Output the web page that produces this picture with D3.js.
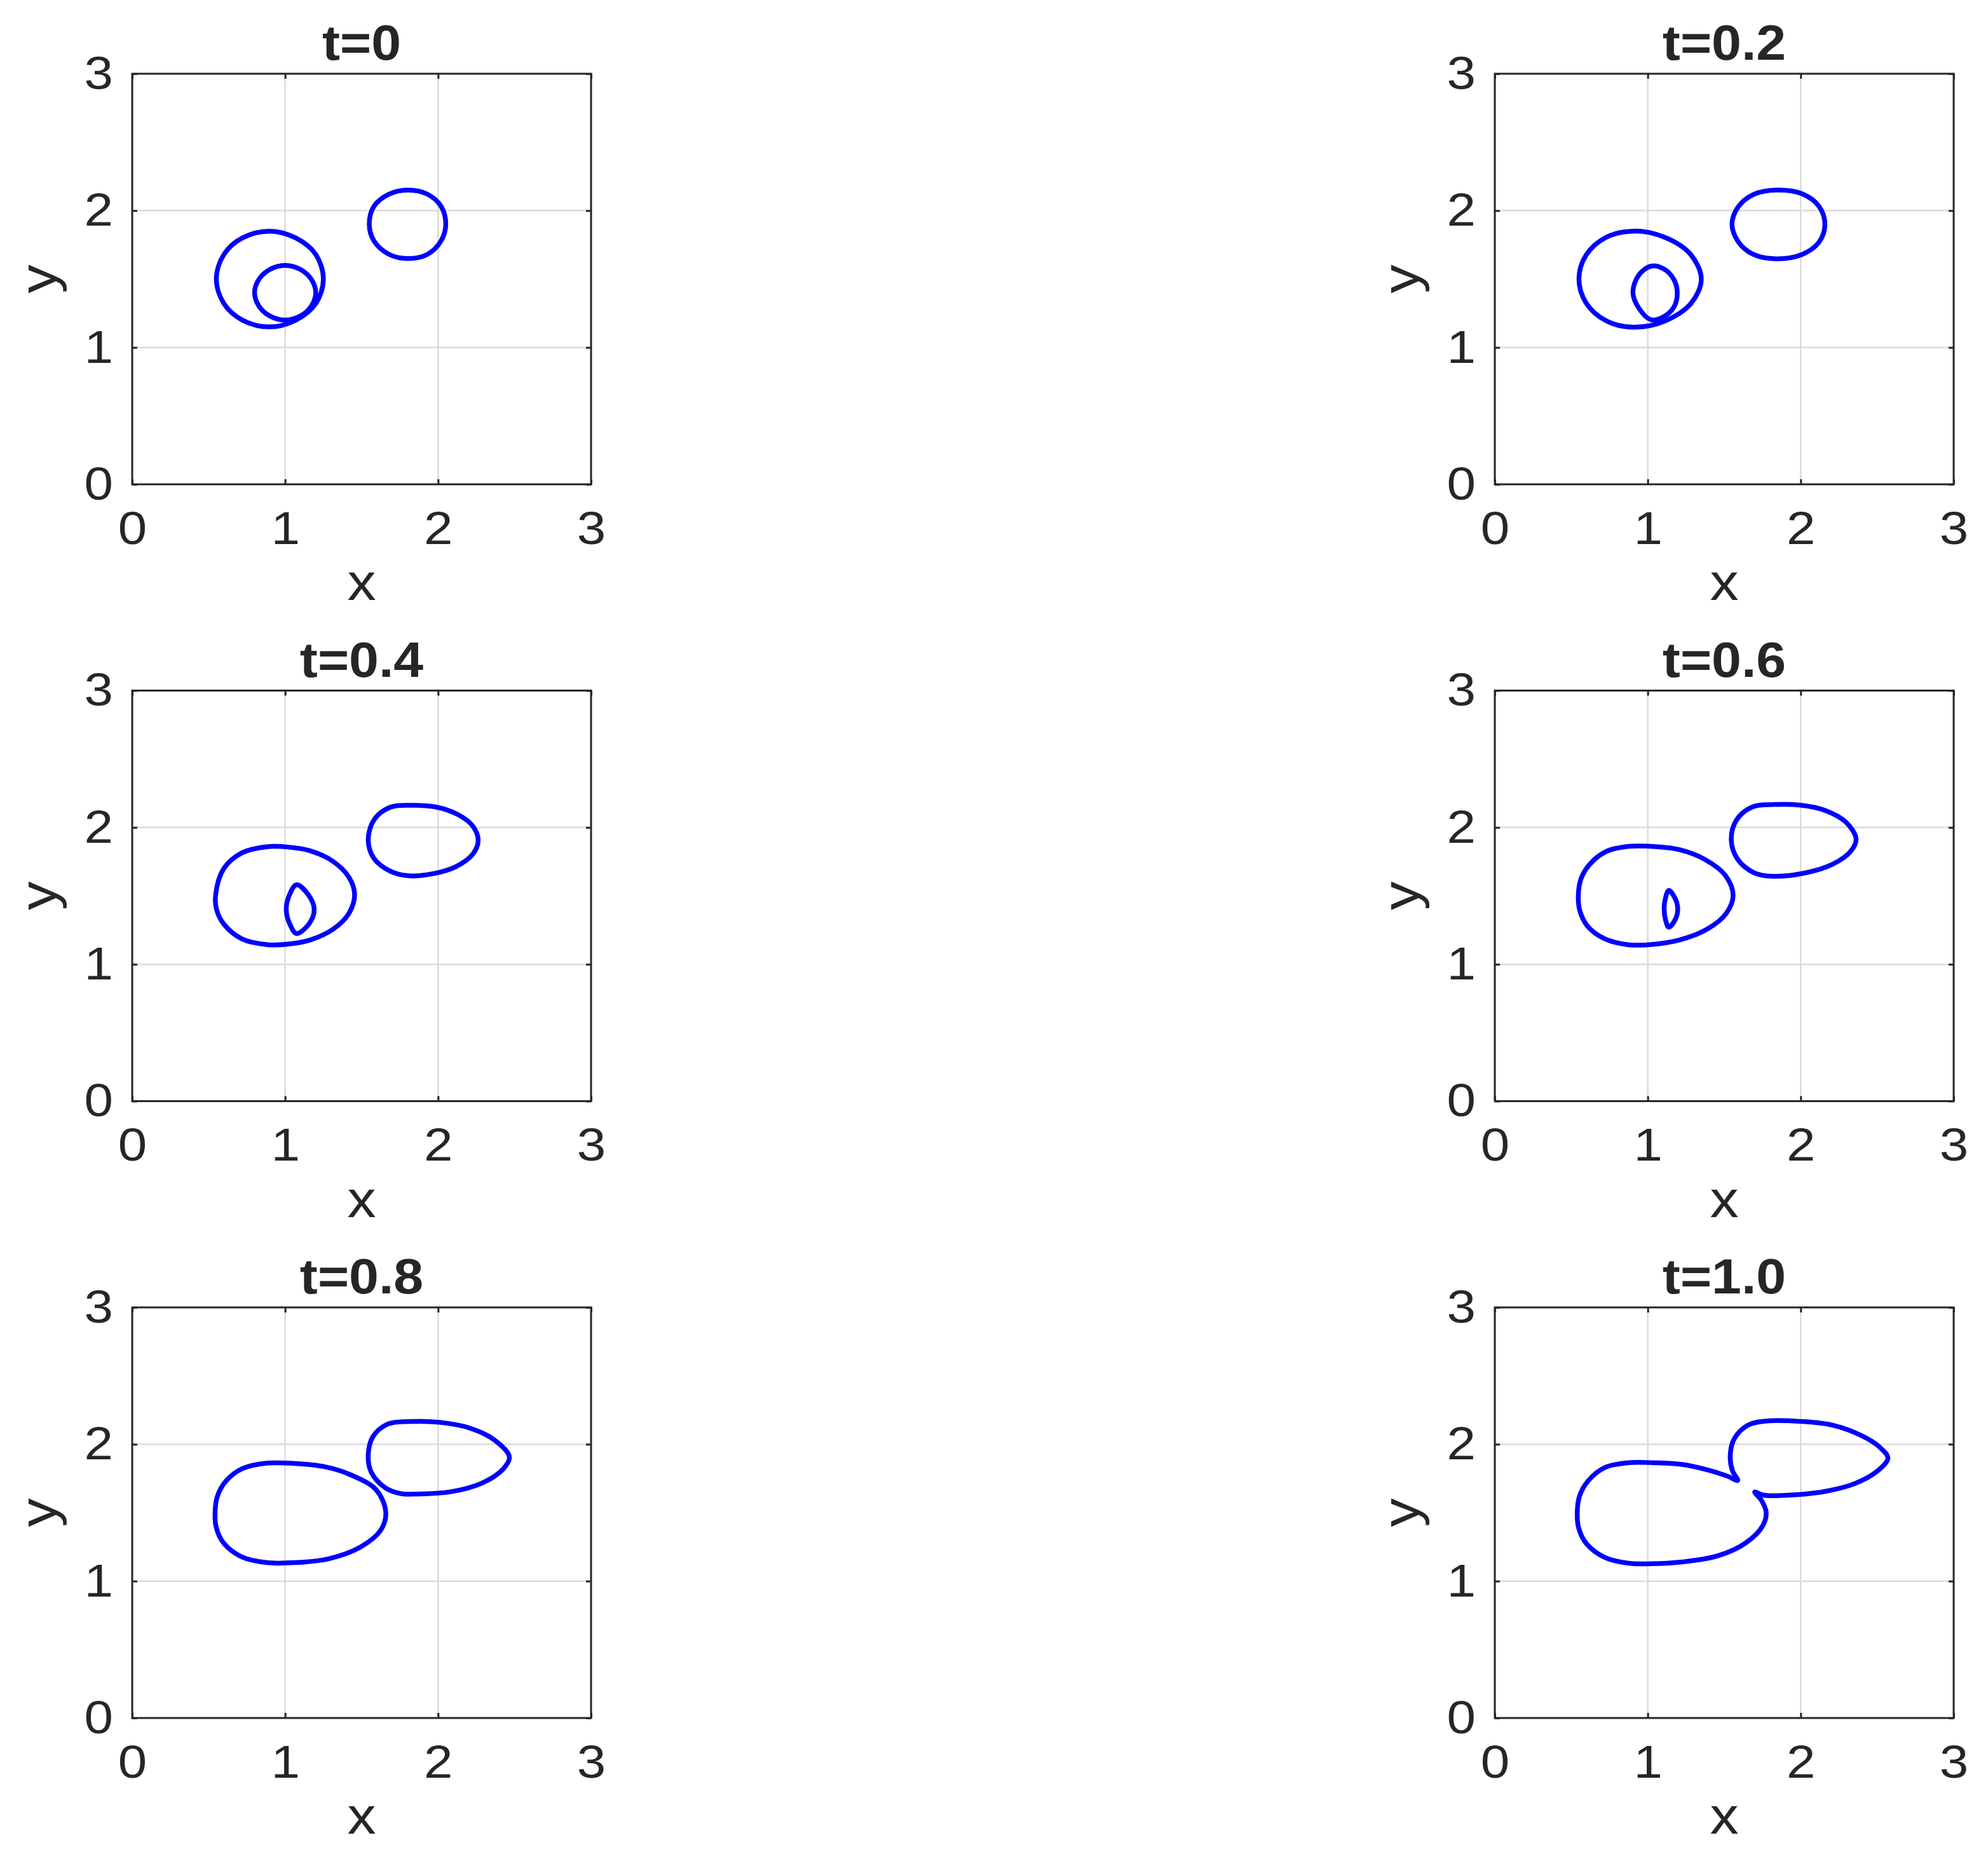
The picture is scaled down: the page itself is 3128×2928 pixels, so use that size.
<!DOCTYPE html>
<html><head><meta charset="utf-8">
<script src="https://cdn.jsdelivr.net/npm/d3@7"></script>
<style>body{margin:0;background:#fff;} svg{display:block;}</style>
</head><body>
<svg id="chart" width="3128" height="2928"></svg>
<script>
// ---------------- data ----------------
const titles = ["t=0", "t=0.2", "t=0.4", "t=0.6", "t=0.8", "t=1.0"];
const xTicks = [0, 1, 2, 3];
const yTicks = [0, 1, 2, 3];
const xLabel = "x";
const yLabel = "y";

// contour points [x, y]
const t0_outer = [[1.25,1.50],[1.20,1.68],[1.07,1.80],[0.90,1.85],[0.72,1.80],[0.60,1.68],[0.55,1.50],[0.60,1.32],[0.72,1.20],[0.90,1.15],[1.07,1.20],[1.20,1.32]];
const t0_inner = [[1.20,1.40],[1.17,1.50],[1.10,1.57],[1.00,1.60],[0.90,1.57],[0.83,1.50],[0.80,1.40],[0.83,1.30],[0.90,1.23],[1.00,1.20],[1.10,1.23],[1.17,1.30]];
const t0_right = [[2.05,1.90],[2.02,2.03],[1.93,2.12],[1.80,2.15],[1.68,2.12],[1.58,2.03],[1.55,1.90],[1.58,1.78],[1.68,1.68],[1.80,1.65],[1.93,1.68],[2.02,1.78]];

const t02_outer = [[0.550,1.500],[0.597,1.675],[0.725,1.803],[0.905,1.850],[1.110,1.805],[1.280,1.680],[1.350,1.500],[1.285,1.325],[1.115,1.195],[0.905,1.148],[0.725,1.197],[0.597,1.325]];
const t02_inner = [[1.022,1.594],[1.104,1.574],[1.171,1.496],[1.193,1.395],[1.171,1.295],[1.104,1.225],[1.022,1.202],[0.940,1.290],[0.903,1.403],[0.940,1.527]];
const t02_right = [[2.158,1.900],[2.120,2.030],[2.010,2.122],[1.840,2.150],[1.690,2.117],[1.590,2.025],[1.551,1.900],[1.590,1.775],[1.690,1.680],[1.840,1.648],[2.010,1.680],[2.120,1.770]];

const t04_outer = [[0.546,1.512],[0.598,1.698],[0.717,1.814],[0.881,1.859],[1.015,1.857],[1.164,1.829],[1.313,1.752],[1.417,1.636],[1.454,1.512],[1.417,1.372],[1.313,1.256],[1.164,1.178],[1.015,1.147],[0.881,1.144],[0.717,1.186],[0.598,1.295],[0.551,1.403]];
const t04_inner = [[1.074,1.581],[1.149,1.512],[1.190,1.403],[1.156,1.295],[1.074,1.225],[1.030,1.295],[1.007,1.403],[1.030,1.512]];
const t04_right = [[1.543,1.907],[1.580,2.054],[1.685,2.147],[1.818,2.162],[1.982,2.150],[2.131,2.093],[2.228,2.008],[2.262,1.907],[2.228,1.806],[2.116,1.713],[1.967,1.662],[1.804,1.647],[1.685,1.682],[1.580,1.775]];

const t06_outer = [[0.546,1.504],[0.562,1.620],[0.620,1.730],[0.730,1.825],[0.881,1.862],[1.045,1.860],[1.208,1.837],[1.372,1.767],[1.506,1.651],[1.558,1.504],[1.513,1.372],[1.387,1.256],[1.208,1.178],[1.015,1.144],[0.866,1.144],[0.715,1.188],[0.605,1.280],[0.555,1.395]];
const t06_inner = [[1.137,1.540],[1.179,1.481],[1.196,1.403],[1.179,1.326],[1.137,1.271],[1.116,1.326],[1.107,1.403],[1.112,1.465]];
const t06_right = [[1.546,1.907],[1.580,2.054],[1.685,2.150],[1.818,2.167],[1.997,2.163],[2.161,2.124],[2.295,2.039],[2.362,1.915],[2.324,1.822],[2.205,1.729],[2.027,1.667],[1.818,1.643],[1.699,1.667],[1.588,1.767]];

const t08_outer = [[0.542,1.504],[0.557,1.620],[0.612,1.730],[0.720,1.822],[0.881,1.862],[1.060,1.860],[1.253,1.837],[1.432,1.775],[1.595,1.667],[1.658,1.504],[1.625,1.372],[1.491,1.248],[1.283,1.163],[1.060,1.135],[0.881,1.135],[0.715,1.178],[0.600,1.275],[0.550,1.390]];
const t08_right = [[1.543,1.907],[1.573,2.054],[1.670,2.147],[1.818,2.166],[2.012,2.160],[2.205,2.119],[2.369,2.031],[2.466,1.907],[2.421,1.814],[2.280,1.713],[2.086,1.654],[1.848,1.636],[1.759,1.639],[1.655,1.682],[1.565,1.791]];

const t10_curve = [[0.539,1.504],[0.555,1.625],[0.612,1.735],[0.720,1.830],[0.866,1.865],[1.045,1.865],[1.223,1.853],[1.387,1.814],[1.521,1.767],[1.588,1.736],[1.554,1.806],[1.539,1.915],[1.565,2.039],[1.655,2.140],[1.789,2.171],[1.997,2.167],[2.205,2.140],[2.399,2.062],[2.518,1.977],[2.570,1.899],[2.503,1.806],[2.354,1.713],[2.176,1.659],[1.967,1.631],[1.759,1.628],[1.699,1.651],[1.744,1.589],[1.774,1.504],[1.751,1.403],[1.640,1.279],[1.461,1.186],[1.223,1.140],[1.015,1.127],[0.866,1.132],[0.715,1.175],[0.598,1.275],[0.548,1.390]];

const panelCurves = [
  [t0_outer, t0_inner, t0_right],
  [t02_outer, t02_inner, t02_right],
  [t04_outer, t04_inner, t04_right],
  [t06_outer, t06_inner, t06_right],
  [t08_outer, t08_right],
  [t10_curve]
];

// ---------------- layout ----------------
const colX = [208, 2352];
const rowY = [116, 1086.5, 2057];
const plotW = 722, plotH = 646;
const axisColor = "#262626";
const fontFam = "'Liberation Sans', Arial, Helvetica, sans-serif";
const tickFont = 73, tickStretch = 1.12;
const labelFont = 82, labelStretch = 1.1;
const titleFont = 78, titleStretch = 1.08;

const svg = d3.select("#chart");
svg.append("rect").attr("width", 3128).attr("height", 2928).attr("fill", "#fff");

const x = d3.scaleLinear().domain([0, 3]).range([0, plotW]);
const y = d3.scaleLinear().domain([0, 3]).range([plotH, 0]);

const line = d3.line()
  .x(d => x(d[0])).y(d => y(d[1]))
  .curve(d3.curveCatmullRomClosed.alpha(0.5));

titles.forEach((title, i) => {
  const g = svg.append("g")
    .attr("transform", `translate(${colX[i % 2]},${rowY[Math.floor(i / 2)]})`);

  // grid
  g.append("g").selectAll("line").data(xTicks.slice(1, -1)).join("line")
    .attr("x1", d => x(d)).attr("x2", d => x(d)).attr("y1", 0).attr("y2", plotH)
    .attr("stroke", "#dbdbdb").attr("stroke-width", 2.5);
  g.append("g").selectAll("line").data(yTicks.slice(1, -1)).join("line")
    .attr("y1", d => y(d)).attr("y2", d => y(d)).attr("x1", 0).attr("x2", plotW)
    .attr("stroke", "#dbdbdb").attr("stroke-width", 2.5);

  // axes
  const styleAxis = (sel) => {
    sel.select(".domain").remove();
    sel.selectAll(".tick line").attr("stroke", axisColor).attr("stroke-width", 3);
    sel.selectAll("text").attr("fill", axisColor)
      .style("font-family", fontFam).style("font-size", tickFont + "px");
  };
  const xPad = 42, yPad = 30;
  g.append("g").attr("transform", `translate(0,${plotH})`)
    .call(d3.axisBottom(x).tickValues(xTicks).tickFormat(d3.format("d"))
      .tickSizeInner(-8).tickSizeOuter(0).tickPadding(xPad))
    .call(styleAxis)
    .call(s => s.selectAll("text").attr("transform", `scale(${tickStretch},1)`));
  g.append("g")
    .call(d3.axisLeft(y).tickValues(yTicks).tickFormat(d3.format("d"))
      .tickSizeInner(-8).tickSizeOuter(0).tickPadding(yPad))
    .call(styleAxis)
    .call(s => s.selectAll("text").attr("x", -yPad / tickStretch)
      .attr("transform", `scale(${tickStretch},1)`));
  g.append("g")
    .call(d3.axisTop(x).tickValues(xTicks).tickFormat("")
      .tickSizeInner(-8).tickSizeOuter(0))
    .call(styleAxis);
  g.append("g").attr("transform", `translate(${plotW},0)`)
    .call(d3.axisRight(y).tickValues(yTicks).tickFormat("")
      .tickSizeInner(-8).tickSizeOuter(0))
    .call(styleAxis);

  // frame
  g.append("rect").attr("width", plotW).attr("height", plotH)
    .attr("fill", "none").attr("stroke", axisColor).attr("stroke-width", 3);

  // curves
  g.append("g").selectAll("path").data(panelCurves[i]).join("path")
    .attr("d", line)
    .attr("fill", "none").attr("stroke", "#0000ff")
    .attr("stroke-width", 7.5).attr("stroke-linejoin", "round");

  // title
  g.append("text").text(title)
    .attr("transform", `translate(${plotW / 2},-22) scale(${titleStretch},1)`)
    .attr("text-anchor", "middle").attr("fill", axisColor)
    .style("font-family", fontFam).style("font-size", titleFont + "px").style("font-weight", "bold");

  // x label
  g.append("text").text(xLabel)
    .attr("transform", `translate(${plotW / 2},${plotH + 182}) scale(${labelStretch},1)`)
    .attr("text-anchor", "middle").attr("fill", axisColor)
    .style("font-family", fontFam).style("font-size", labelFont + "px");

  // y label
  g.append("text").text(yLabel)
    .attr("transform", `translate(-120,${plotH / 2}) rotate(-90) scale(${labelStretch},1)`)
    .attr("text-anchor", "middle").attr("fill", axisColor)
    .style("font-family", fontFam).style("font-size", labelFont + "px");
});
</script>
</body></html>
